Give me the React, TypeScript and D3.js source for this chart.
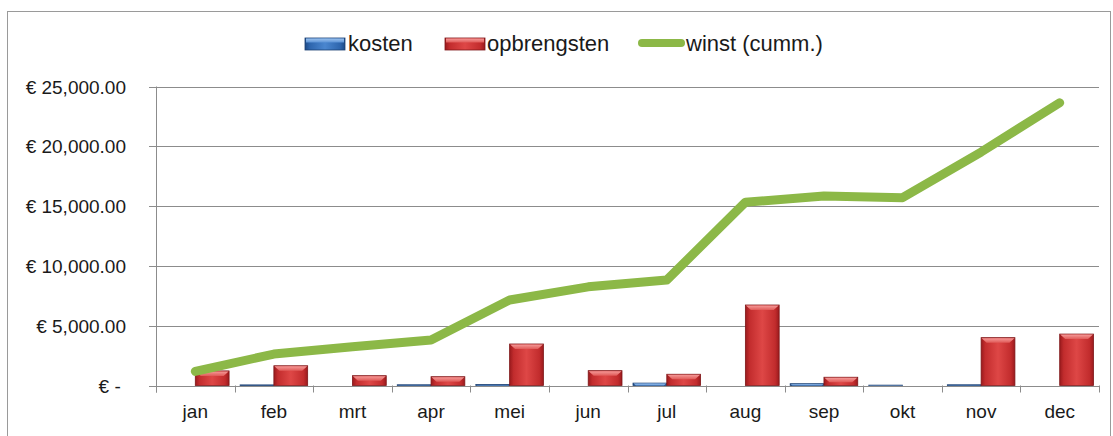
import * as d3 from "d3"
import { useEffect, useRef } from "react"

const months = ["jan", "feb", "mrt", "apr", "mei", "jun", "jul", "aug", "sep", "okt", "nov", "dec"]
const kosten = [0, 50, 0, 60, 80, 0, 200, 0, 150, 30, 60, 0]
const opbrengsten = [1220, 1650, 820, 735, 3470, 1240, 940, 6730, 690, 0, 4000, 4300]
const winst = [1180, 2630, 3240, 3800, 7150, 8250, 8820, 15320, 15840, 15700, 19520, 23640]
const yTicks = [0, 5000, 10000, 15000, 20000, 25000]

const FONT = "'Liberation Sans', Arial, sans-serif"

export default function App() {
  const ref = useRef<SVGSVGElement>(null)

  useEffect(() => {
    if (!ref.current) return
    const svg = d3.select(ref.current)
    svg.selectAll("*").remove()

    const left = 156
    const right = 1099
    const top = 86.5
    const bottom = 385.5

    const defs = svg.append("defs")
    const grad = (id: string, stops: [number, string][], vertical = false) => {
      const g = defs
        .append("linearGradient")
        .attr("id", id)
        .attr("x1", 0)
        .attr("y1", 0)
        .attr("x2", vertical ? 0 : 1)
        .attr("y2", vertical ? 1 : 0)
      stops.forEach(([o, c]) => g.append("stop").attr("offset", o).attr("stop-color", c))
    }
    grad("redBar", [
      [0, "#9a1a1d"],
      [0.12, "#c22c2d"],
      [0.5, "#de4746"],
      [0.88, "#c22c2d"],
      [1, "#9a1a1d"],
    ])
    grad("blueBar", [
      [0, "#1d4a86"],
      [0.12, "#2d65ad"],
      [0.5, "#4a86cf"],
      [0.88, "#2d65ad"],
      [1, "#1d4a86"],
    ])
    grad("redTop", [
      [0, "#f59a98"],
      [1, "#e05a58"],
    ], true)
    grad("blueTop", [
      [0, "#9cc2ee"],
      [1, "#5a92d6"],
    ], true)

    // outer border
    svg
      .append("rect")
      .attr("x", 7.5)
      .attr("y", 11.5)
      .attr("width", 1103)
      .attr("height", 440)
      .attr("fill", "#fff")
      .attr("stroke", "#9a9a9a")

    const y = d3.scaleLinear().domain([0, 25000]).range([bottom, top])
    const x0 = d3.scaleBand().domain(months).range([left, right]).padding(0)
    const bw = x0.bandwidth()
    const x1 = d3
      .scaleBand()
      .domain(["kosten", "opbrengsten"])
      .range([bw * 0.07, bw * 0.93])
      .padding(0)

    // gridlines + y labels
    const yg = svg.append("g")
    yTicks.forEach((t) => {
      const yy = Math.round(y(t)) + 0.5
      yg.append("line")
        .attr("x1", left - 7)
        .attr("x2", t === 0 ? right : right)
        .attr("y1", yy)
        .attr("y2", yy)
        .attr("stroke", "#8c8c8c")
        .attr("stroke-width", 1)
      yg.append("text")
        .attr("x", 126)
        .attr("y", yy)
        .attr("dy", "0.35em")
        .attr("text-anchor", "end")
        .style("white-space", "pre")
        .attr("font-family", FONT)
        .attr("font-size", 19)
        .attr("fill", "#1a1a1a")
        .text(t === 0 ? "€ - " : `€ ${d3.format(",.2f")(t)}`)
    })

    // y axis line
    svg
      .append("line")
      .attr("x1", left + 0.5)
      .attr("x2", left + 0.5)
      .attr("y1", top)
      .attr("y2", bottom + 7)
      .attr("stroke", "#8c8c8c")

    // x ticks
    const edges = months.map((m) => x0(m)!).concat([right])
    edges.forEach((ex) => {
      svg
        .append("line")
        .attr("x1", Math.round(ex) + 0.5)
        .attr("x2", Math.round(ex) + 0.5)
        .attr("y1", bottom)
        .attr("y2", bottom + 7)
        .attr("stroke", "#8c8c8c")
    })

    // x labels
    months.forEach((m) => {
      svg
        .append("text")
        .attr("x", x0(m)! + bw / 2)
        .attr("y", 418)
        .attr("text-anchor", "middle")
        .attr("font-family", FONT)
        .attr("font-size", 19)
        .attr("fill", "#1a1a1a")
        .text(m)
    })

    // bars
    const drawBar = (bx: number, w: number, v: number, kind: "red" | "blue") => {
      const h = bottom - y(v)
      if (h <= 0) return
      const g = svg.append("g")
      g.append("rect")
        .attr("x", bx)
        .attr("y", y(v))
        .attr("width", w)
        .attr("height", h)
        .attr("fill", `url(#${kind}Bar)`)
        .attr("stroke", kind === "red" ? "#7e1618" : "#1a3f72")
        .attr("stroke-width", 0.8)
      const th = Math.min(5, h)
      g.append("path")
        .attr(
          "d",
          `M${bx + 0.5},${y(v) + 0.5} L${bx + w - 0.5},${y(v) + 0.5} L${bx + w - 0.5 - th},${y(v) + th} L${bx + 0.5 + th},${y(v) + th} Z`
        )
        .attr("fill", `url(#${kind}Top)`)
    }
    months.forEach((m, i) => {
      drawBar(x0(m)! + x1("kosten")!, x1.bandwidth(), kosten[i], "blue")
      drawBar(x0(m)! + x1("opbrengsten")!, x1.bandwidth(), opbrengsten[i], "red")
    })

    // line
    const line = d3
      .line<number>()
      .x((_, i) => x0(months[i])! + bw / 2)
      .y((d) => y(d))
    svg
      .append("path")
      .attr("d", line(winst))
      .attr("fill", "none")
      .attr("stroke", "#8cb847")
      .attr("stroke-width", 9)
      .attr("stroke-linecap", "round")
      .attr("stroke-linejoin", "round")

    // legend
    const lg = svg.append("g").attr("font-family", FONT).attr("font-size", 22).attr("fill", "#1a1a1a")
    const swatch = (sx: number, kind: "red" | "blue") => {
      lg.append("rect")
        .attr("x", sx)
        .attr("y", 38)
        .attr("width", 40)
        .attr("height", 12)
        .attr("fill", `url(#${kind}Bar)`)
        .attr("stroke", kind === "red" ? "#7e1618" : "#1a3f72")
        .attr("stroke-width", 0.8)
      lg.append("rect")
        .attr("x", sx + 1)
        .attr("y", 38.5)
        .attr("width", 38)
        .attr("height", 4)
        .attr("fill", `url(#${kind}Top)`)
    }
    swatch(305, "blue")
    lg.append("text").attr("x", 348).attr("y", 51).text("kosten")
    swatch(445, "red")
    lg.append("text").attr("x", 487).attr("y", 51).text("opbrengsten")
    lg.append("line")
      .attr("x1", 642)
      .attr("x2", 681)
      .attr("y1", 43)
      .attr("y2", 43)
      .attr("stroke", "#8cb847")
      .attr("stroke-width", 8)
      .attr("stroke-linecap", "round")
    lg.append("text").attr("x", 686).attr("y", 51).text("winst (cumm.)")
  }, [])

  return (
    <svg
      ref={ref}
      width={1113}
      height={436}
      style={{ position: "absolute", left: 0, top: 0, background: "#fff" }}
    />
  )
}
